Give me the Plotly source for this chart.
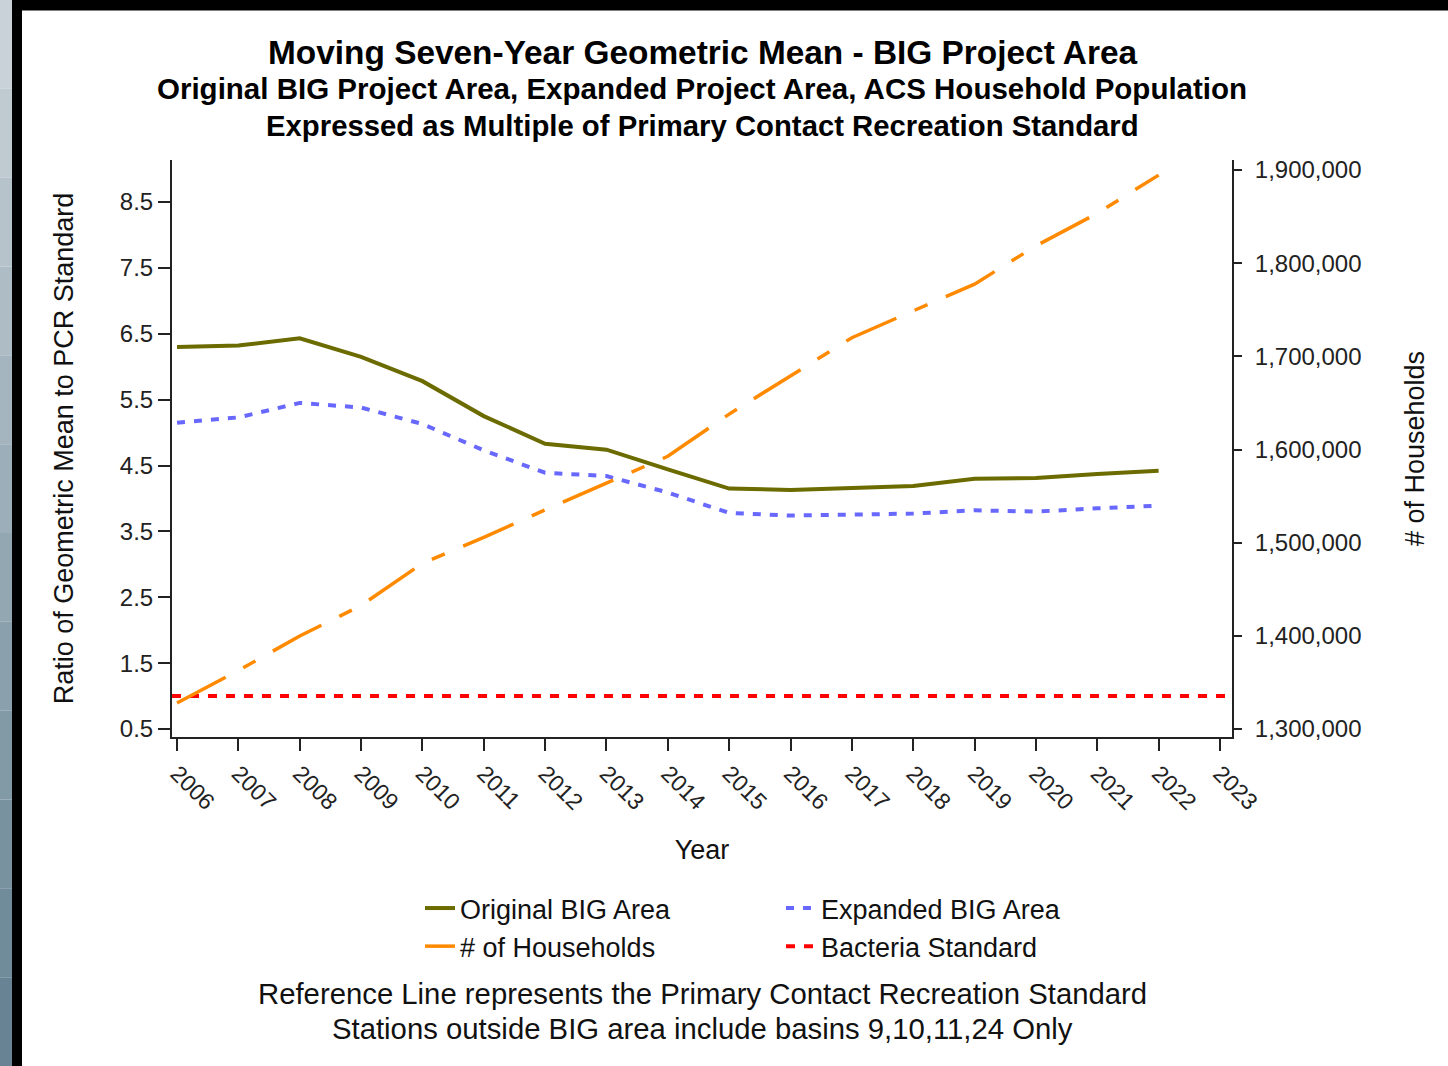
import plotly.graph_objects as go

# ---------------- data ----------------
years = list(range(2006, 2023))
original_big = [6.30, 6.32, 6.43, 6.15, 5.78, 5.25, 4.83, 4.74, 4.44, 4.15,
                4.13, 4.16, 4.19, 4.30, 4.31, 4.37, 4.42]
expanded_big = [5.15, 5.23, 5.45, 5.38, 5.13, 4.73, 4.39, 4.34, 4.09, 3.78,
                3.74, 3.75, 3.77, 3.82, 3.80, 3.85, 3.89]
households = [1327900, 1362800, 1399800, 1432600, 1477800, 1505700, 1535300,
              1564000, 1592700, 1638000, 1679000, 1720000, 1748800, 1777500,
              1818600, 1853500, 1894500]
bacteria_standard = 1.0
tick_years = list(range(2006, 2024))
left_ticks = [0.5, 1.5, 2.5, 3.5, 4.5, 5.5, 6.5, 7.5, 8.5]
right_ticks = [1300000, 1400000, 1500000, 1600000, 1700000, 1800000, 1900000]

title_lines = ["Moving Seven-Year Geometric Mean - BIG Project Area",
               "Original BIG Project Area, Expanded Project Area, ACS Household Population",
               "Expressed as Multiple of Primary Contact Recreation Standard"]
footnotes = ["Reference Line represents the Primary Contact Recreation Standard",
             "Stations outside BIG area include basins 9,10,11,24 Only"]

x_range = [2005.918, 2023.196]
y_range = [0.3786, 9.1376]
y2_range = [1291413, 1910733]

FONT = "Liberation Sans, Arial, sans-serif"
AX = "#222222"

# ---------------- figure ----------------
W, H = 1448, 1066
L, R, T, B = 172, 216, 160, 329
PW, PH = W - L - R, H - T - B


def px_x(px):
    return (px - L) / PW


def px_y(py):
    return (H - B - py) / PH


fig = go.Figure()

fig.add_trace(go.Scatter(x=years, y=original_big, name="Original BIG Area",
                         mode="lines", line=dict(color="#6B6B00", width=4)))
fig.add_trace(go.Scatter(x=years, y=expanded_big, name="Expanded BIG Area",
                         mode="lines", line=dict(color="#6868FF", width=4, dash="8px,9px")))
fig.add_trace(go.Scatter(x=years, y=households, name="# of Households", yaxis="y2",
                         mode="lines", line=dict(color="#FF8A00", width=3.5,
                                                 dash="55px,20px,14px,20px")))
fig.add_trace(go.Scatter(x=x_range, y=[bacteria_standard, bacteria_standard],
                         name="Bacteria Standard", mode="lines",
                         line=dict(color="#FF0000", width=4, dash="9px,9px")))

axis_common = dict(showgrid=False, zeroline=False, showline=True, linecolor=AX,
                   linewidth=2, ticks="outside", tickcolor=AX, tickwidth=2,
                   automargin=False)

fig.update_layout(
    width=W, height=H,
    margin=dict(l=L, r=R, t=T, b=B, autoexpand=False),
    paper_bgcolor="white", plot_bgcolor="white",
    font=dict(family=FONT, color="#111111"),
    xaxis=dict(range=x_range, tickvals=tick_years, tickangle=45, ticklen=12,
               tickfont=dict(size=23, color=AX),
               title=dict(text="Year", font=dict(size=27, color="#111111"), standoff=26),
               **axis_common),
    yaxis=dict(range=y_range, tickvals=left_ticks, tickformat=".1f", ticklen=12,
               tickfont=dict(size=24, color=AX),
               title=dict(text="Ratio of Geometric Mean to PCR Standard",
                          font=dict(size=27, color="#111111"), standoff=38),
               **axis_common),
    yaxis2=dict(range=y2_range, overlaying="y", side="right", anchor="x",
                tickvals=right_ticks, tickformat=",", ticklen=8, ticklabelstandoff=8,
                tickfont=dict(size=24, color=AX),
                title=dict(text="# of Households", font=dict(size=27, color="#111111"),
                           standoff=45),
                **axis_common),
    legend=dict(orientation="h", x=px_x(420), xanchor="left", y=px_y(884), yanchor="top",
                entrywidth=316, entrywidthmode="pixels", font=dict(size=27, color="#111111"),
                bgcolor="rgba(0,0,0,0)", traceorder="normal"),
    showlegend=True,
)

# titles
title_y = [52, 89, 125]
title_sizes = [33.4, 29.5, 29.3]
for txt, py, sz in zip(title_lines, title_y, title_sizes):
    fig.add_annotation(text="<b>" + txt + "</b>", x=0.5, y=px_y(py), xref="paper", yref="paper",
                       xanchor="center", yanchor="middle", showarrow=False,
                       font=dict(size=sz, color="#000000"))

for txt, py in zip(footnotes, [993, 1028]):
    fig.add_annotation(text=txt, x=0.5, y=px_y(py), xref="paper", yref="paper",
                       xanchor="center", yanchor="middle", showarrow=False,
                       font=dict(size=29.3, color="#111111"))

# window frame decoration (screenshot border)
bands = 12
c0, c1 = (200, 210, 216), (104, 132, 148)
for i in range(bands):
    t = i / (bands - 1)
    col = "rgb(%d,%d,%d)" % tuple(int(a + (b - a) * t) for a, b in zip(c0, c1))
    fig.add_shape(type="rect", xref="paper", yref="paper", layer="above",
                  x0=px_x(0), x1=px_x(12), y0=px_y(H * i / bands), y1=px_y(H * (i + 1) / bands),
                  line=dict(width=0), fillcolor=col)
fig.add_shape(type="rect", xref="paper", yref="paper", layer="above",
              x0=px_x(12), x1=px_x(22), y0=px_y(0), y1=px_y(H),
              line=dict(width=0), fillcolor="#000000")
fig.add_shape(type="rect", xref="paper", yref="paper", layer="above",
              x0=px_x(12), x1=px_x(W), y0=px_y(0), y1=px_y(10.5),
              line=dict(width=0), fillcolor="#000000")

fig.write_html("out.html", config={"displayModeBar": False},
               post_script="document.body.style.margin='0';document.body.style.overflow='hidden';")
